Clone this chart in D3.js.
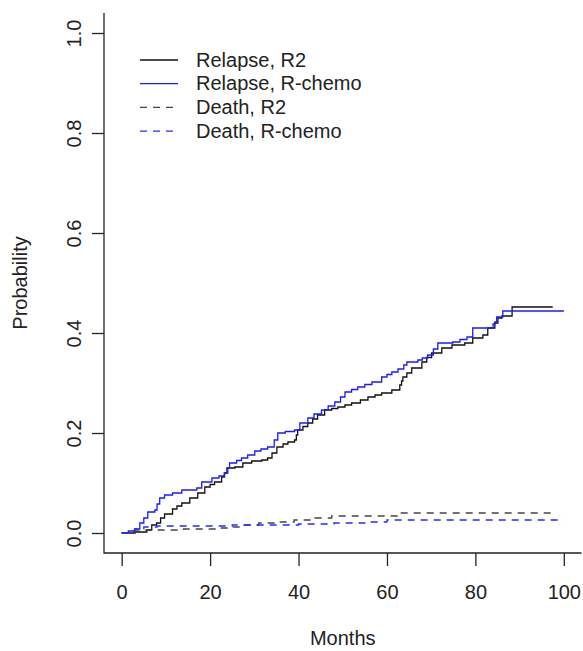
<!DOCTYPE html>
<html>
<head>
<meta charset="utf-8">
<script src="https://cdn.jsdelivr.net/npm/d3@7"></script>
<style>
  body { margin: 0; background: #fff; }
  text { font-family: "Liberation Sans", Arial, sans-serif; fill: #222; }
</style>
</head>
<body>
<script>
// step points: [month, cumulative probability]
var relapseR2 = [[0,0],[3,0.002],[5.7,0.006],[6.8,0.016],[7.9,0.02],[8.8,0.03],[9.7,0.038],[11.5,0.048],
  [12.5,0.054],[13.6,0.06],[15.4,0.07],[17.2,0.08],[18.8,0.092],[20,0.097],[21,0.102],[22.6,0.112],
  [23.2,0.12],[23.8,0.13],[25.6,0.132],[27.4,0.14],[29.4,0.144],[31.7,0.146],[33,0.15],[34,0.16],
  [35.1,0.172],[36.5,0.178],[37.6,0.182],[39.1,0.186],[39.5,0.196],[39.8,0.206],[41,0.213],[42.1,0.22],
  [43.2,0.228],[44.3,0.236],[45.9,0.246],[47.5,0.249],[48.9,0.252],[50.5,0.256],[52,0.26],[54,0.266],
  [55.7,0.272],[57.3,0.276],[58.8,0.28],[61.1,0.286],[62.9,0.296],[63.3,0.304],[63.6,0.312],[64.5,0.32],
  [65.6,0.33],[67.9,0.342],[69,0.351],[70.1,0.36],[72.4,0.37],[74.7,0.376],[77.6,0.38],[79.4,0.39],
  [81.7,0.396],[82.8,0.41],[84.4,0.42],[85.1,0.43],[86,0.434],[88.3,0.452],[97.5,0.452]];

var relapseRchemo = [[0,0],[1.5,0.004],[2.9,0.008],[4.1,0.02],[5,0.03],[5.9,0.042],[7.5,0.046],[8,0.058],
  [8.6,0.07],[9.7,0.076],[11.5,0.08],[13.6,0.086],[17,0.09],[18.1,0.102],[20.4,0.11],[22,0.114],
  [23.3,0.12],[24,0.13],[24.4,0.14],[26,0.145],[27.1,0.15],[28.5,0.156],[30.1,0.164],[31.5,0.168],
  [33,0.172],[34.5,0.186],[35.3,0.2],[37,0.203],[39.1,0.206],[40.3,0.22],[42.1,0.23],[43.5,0.238],
  [45.2,0.246],[46.7,0.254],[48.2,0.262],[49.5,0.272],[50.5,0.282],[52,0.287],[53.4,0.292],[55,0.297],
  [56.6,0.302],[58.8,0.312],[60,0.317],[61.1,0.322],[62.5,0.328],[63.8,0.336],[64.5,0.342],[67,0.346],
  [68,0.35],[69.2,0.356],[70.5,0.368],[71.5,0.38],[74.9,0.382],[76.5,0.387],[78.1,0.392],[79.4,0.41],
  [84,0.418],[84.4,0.422],[84.8,0.432],[86.2,0.444],[100,0.444]];

var deathR2 = [[0,0],[3,0.004],[5.5,0.006],[14,0.008],[21.5,0.01],[24,0.012],[27,0.016],[31,0.02],
  [35,0.022],[39,0.026],[43.7,0.03],[47.5,0.034],[63,0.04],[98,0.04]];

var deathRchemo = [[0,0],[1.5,0.004],[3,0.008],[5,0.012],[8,0.014],[25,0.016],[40,0.018],[48,0.02],
  [55,0.022],[60,0.026],[100,0.026]];

var legendLabels = ["Relapse, R2", "Relapse, R-chemo", "Death, R2", "Death, R-chemo"];
var xTicks = [0, 20, 40, 60, 80, 100];
var yTicks = [0, 0.2, 0.4, 0.6, 0.8, 1.0];

var w = 583, h = 651;

var svg = d3.select("body").append("svg")
    .attr("width", w)
    .attr("height", h);

// R style: limits padded by 4%
var x = d3.scaleLinear().domain([-4, 104]).range([104, 581.5]);
var y = d3.scaleLinear().domain([-0.04, 1.04]).range([553, 13]);

// L shaped box
svg.append("path")
    .attr("d", "M" + x(-4) + "," + y(1.04) + "V" + y(-0.04) + "H" + x(104))
    .attr("fill", "none")
    .attr("stroke", "#222")
    .attr("stroke-width", 1.3);

var xAxis = svg.append("g")
    .attr("transform", "translate(0," + y(-0.04) + ")")
    .call(d3.axisBottom(x).tickValues(xTicks).tickSize(13).tickSizeOuter(0).tickFormat(d3.format("d")));
xAxis.select(".domain").remove();
xAxis.selectAll("line").attr("stroke", "#222").attr("stroke-width", 1.3);
xAxis.selectAll("text")
    .attr("y", 46).attr("dy", 0)
    .attr("font-size", 20).attr("fill", "#222")
    .style("font-family", "'Liberation Sans', Arial, sans-serif");

var yAxis = svg.append("g")
    .attr("transform", "translate(" + x(-4) + ",0)")
    .call(d3.axisLeft(y).tickValues(yTicks).tickSize(12).tickSizeOuter(0).tickFormat(d3.format(".1f")));
yAxis.select(".domain").remove();
yAxis.selectAll("line").attr("stroke", "#222").attr("stroke-width", 1.3);
yAxis.selectAll("text")
    .attr("transform", "rotate(-90)")
    .attr("x", 0).attr("y", -23).attr("dy", 0)
    .attr("text-anchor", "middle")
    .attr("font-size", 20).attr("fill", "#222")
    .style("font-family", "'Liberation Sans', Arial, sans-serif");

svg.append("text")
    .attr("x", (x(-4) + x(104)) / 2)
    .attr("y", 645)
    .attr("text-anchor", "middle")
    .attr("font-size", 20)
    .text("Months");

svg.append("text")
    .attr("transform", "translate(27," + (y(-0.04) + y(1.04)) / 2 + ") rotate(-90)")
    .attr("text-anchor", "middle")
    .attr("font-size", 20)
    .text("Probability");

var line = d3.line()
    .x(function(d) { return x(d[0]); })
    .y(function(d) { return y(d[1]); })
    .curve(d3.curveStepAfter);

var series = [
    { data: relapseR2, color: "#111", dash: null },
    { data: relapseRchemo, color: "#1a1aff", dash: null },
    { data: deathR2, color: "#444", dash: "7,6" },
    { data: deathRchemo, color: "#2a2aff", dash: "7,6" }
];

svg.selectAll("path.curve")
    .data(series)
    .enter()
    .append("path")
    .attr("class", "curve")
    .attr("d", function(d) { return line(d.data); })
    .attr("fill", "none")
    .attr("stroke", function(d) { return d.color; })
    .attr("stroke-width", 1.3)
    .attr("stroke-dasharray", function(d) { return d.dash; });

// legend
var leg = svg.selectAll("g.leg")
    .data(series)
    .enter()
    .append("g")
    .attr("class", "leg")
    .attr("transform", function(d, i) { return "translate(140," + (60 + i * 23.7) + ")"; });

leg.append("line")
    .attr("x1", 0).attr("x2", 38)
    .attr("stroke", function(d) { return d.color; })
    .attr("stroke-width", 1.3)
    .attr("stroke-dasharray", function(d) { return d.dash; });

leg.append("text")
    .attr("x", 56)
    .attr("y", 6.5)
    .attr("font-size", 20)
    .text(function(d, i) { return legendLabels[i]; });
</script>
</body>
</html>
